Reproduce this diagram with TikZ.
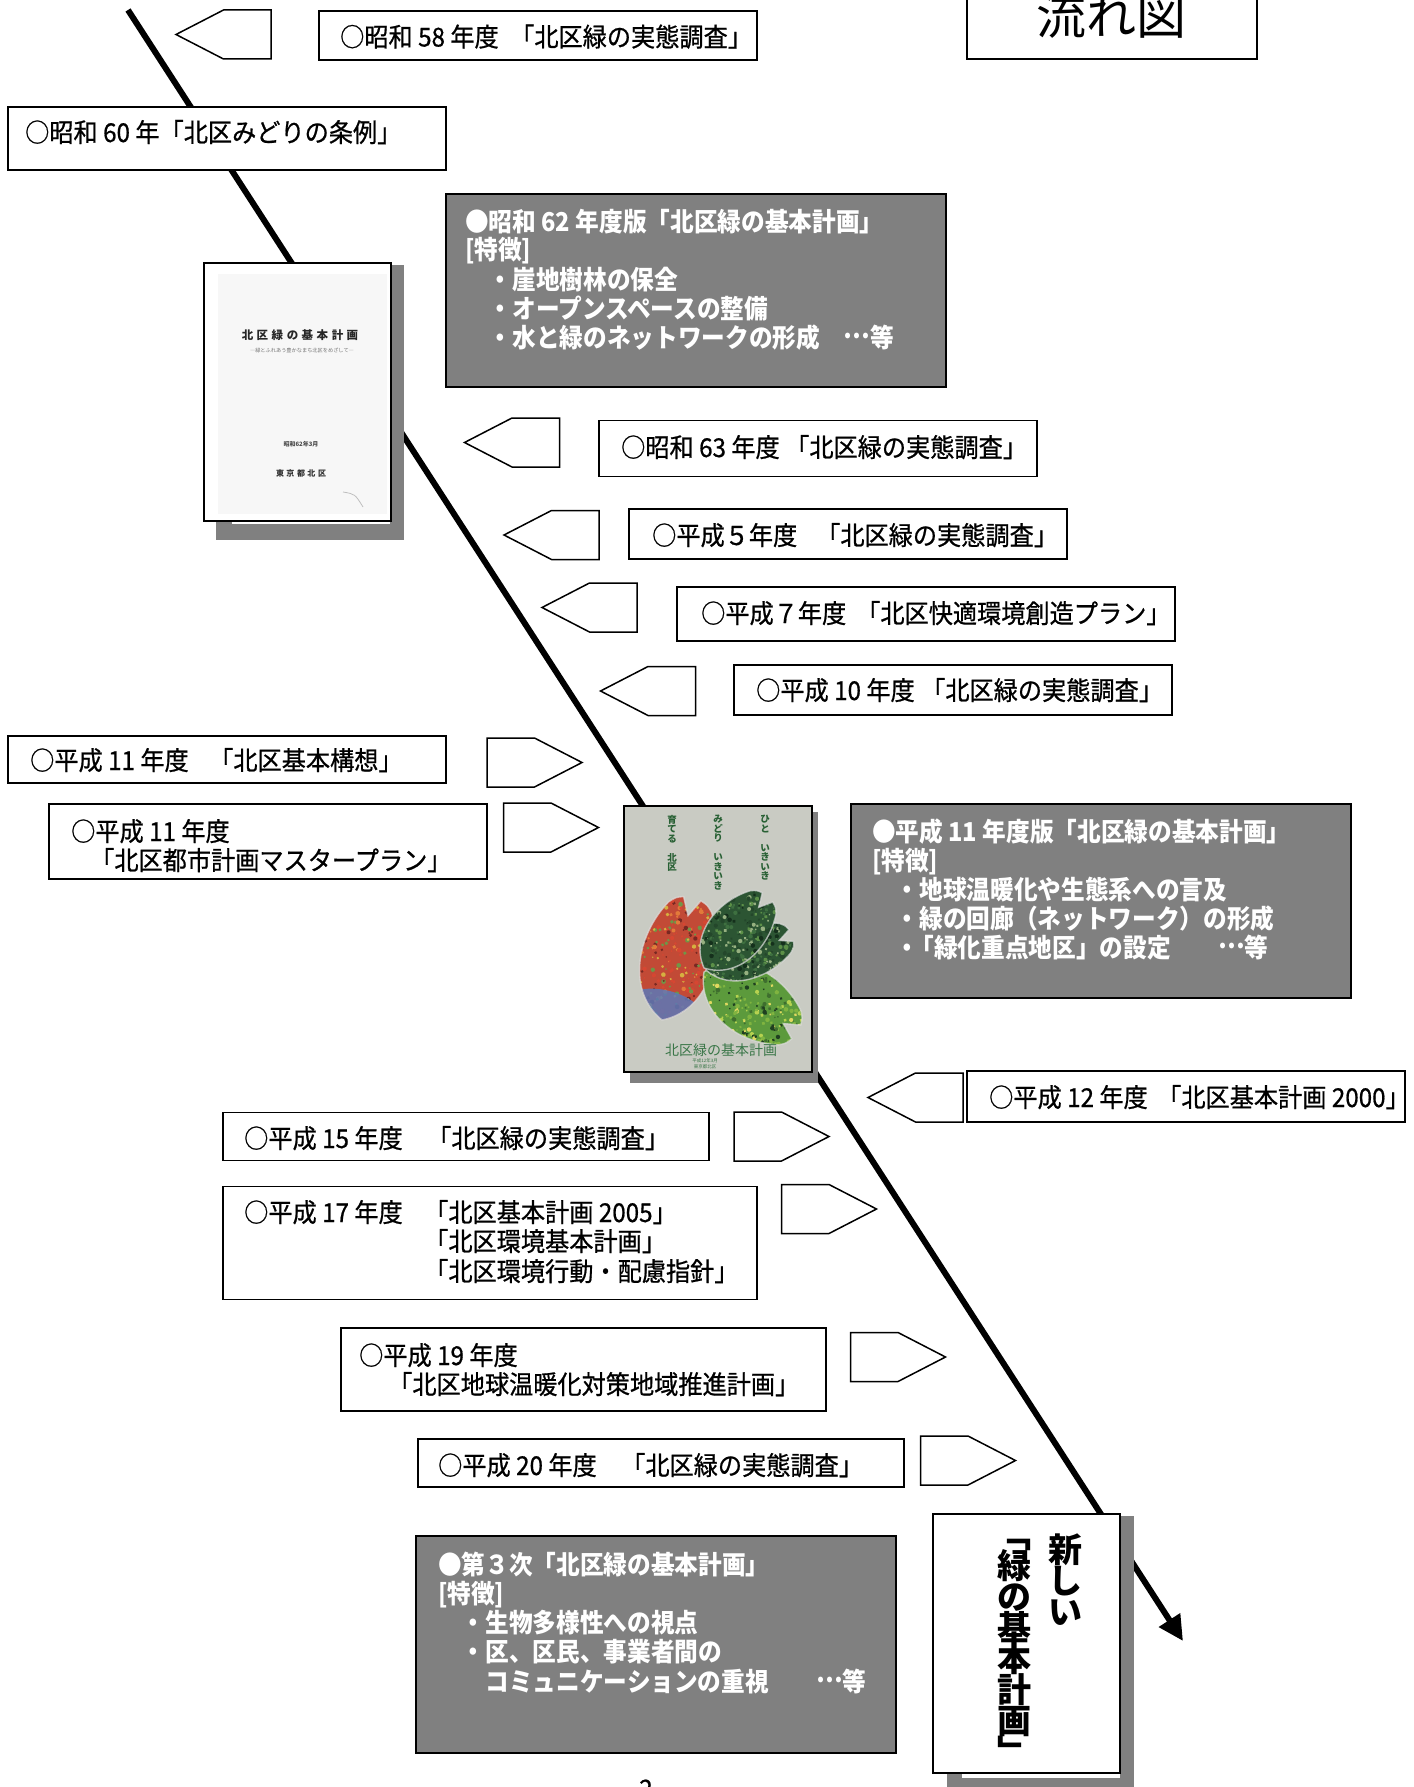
\documentclass[tikz,border=0pt]{standalone}
\usepackage{fontspec}
\usetikzlibrary{arrows.meta}
\newfontfamily\jp[FakeStretch=0.93,FakeBold=0.7]{Noto Sans CJK JP}
\newfontfamily\jpb[FakeStretch=0.91]{Noto Sans CJK JP}
\newfontfamily\jpn{Noto Sans CJK JP}
% centred ellipsis, as set in Japanese text
\newcommand\etcdots{\raisebox{0.33em}{…}}

\definecolor{boxgray}{RGB}{128,128,128}
\definecolor{covergray}{RGB}{201,203,195}
\definecolor{coverink}{RGB}{40,96,52}
\definecolor{coverinkb}{RGB}{58,118,72}
% petal colours
\definecolor{petbase}{RGB}{194,74,54}
\definecolor{petred}{RGB}{214,70,50}
\definecolor{petorange}{RGB}{226,122,58}
\definecolor{petdeep}{RGB}{120,40,34}
\definecolor{petyellow}{RGB}{214,176,64}
\definecolor{petleaf}{RGB}{112,150,70}
\definecolor{petblue}{RGB}{92,120,184}
\definecolor{dgbase}{RGB}{44,85,51}
\definecolor{dga}{RGB}{36,71,43}
\definecolor{dgb}{RGB}{62,112,64}
\definecolor{dgc}{RGB}{150,176,128}
\definecolor{dgd}{RGB}{21,48,28}
\definecolor{dge}{RGB}{92,144,72}
\definecolor{lgbase}{RGB}{92,154,60}
\definecolor{lga}{RGB}{128,180,64}
\definecolor{lgb}{RGB}{182,210,80}
\definecolor{lgc}{RGB}{62,110,46}
\definecolor{lgd}{RGB}{224,216,96}
\definecolor{lge}{RGB}{31,63,32}

\pgfmathdeclarerandomlist{redmix}{{petred}{petorange}{petdeep}{petyellow}{petleaf}{petred}}
\pgfmathdeclarerandomlist{darkmix}{{dga}{dgb}{dgc}{dgd}{dge}{dga}}
\pgfmathdeclarerandomlist{lightmix}{{lga}{lgb}{lgc}{lgd}{lge}{lga}}

% one notched cherry petal: base x, base y, angle, length, width, colour, speckle list, extra fill
\newcommand\drawpetal[8]{%
  \begin{scope}[shift={(#1,#2)},rotate=#3]
    \begin{scope}
      \clip (0,0) .. controls ({0.15*#4},{0.55*#5}) and ({0.6*#4},{0.62*#5}) .. ({0.93*#4},{0.3*#5})
        .. controls ({0.98*#4},{0.22*#5}) .. (#4,{0.12*#5}) -- ({0.86*#4},0) -- (#4,{-0.12*#5})
        .. controls ({0.98*#4},{-0.22*#5}) .. ({0.93*#4},{-0.3*#5})
        .. controls ({0.6*#4},{-0.62*#5}) and ({0.15*#4},{-0.55*#5}) .. (0,0) -- cycle;
      \fill[#6] (-5,{-#5}) rectangle ({#4+5},{#5});
      \foreach \k in {1,...,260}{%
        \pgfmathrandomitem{\pc}{#7}%
        \pgfmathsetmacro\px{rnd*#4}%
        \pgfmathsetmacro\py{(rnd-0.5)*#5}%
        \pgfmathsetmacro\pr{0.8+1.6*rnd}%
        \fill[\pc] (\px,\py) circle (\pr);}
      #8
    \end{scope}
    \draw[petalrim] (0,0) .. controls ({0.15*#4},{0.55*#5}) and ({0.6*#4},{0.62*#5}) .. ({0.93*#4},{0.3*#5})
        .. controls ({0.98*#4},{0.22*#5}) .. (#4,{0.12*#5}) -- ({0.86*#4},0) -- (#4,{-0.12*#5})
        .. controls ({0.98*#4},{-0.22*#5}) .. ({0.93*#4},{-0.3*#5})
        .. controls ({0.6*#4},{-0.62*#5}) and ({0.15*#4},{-0.55*#5}) .. (0,0) -- cycle;
  \end{scope}}

\begin{document}
\begin{tikzpicture}[x=1pt,y=-1pt,
  box/.style={draw=black,line width=1.6pt,fill=white,inner sep=0pt},
  dbox/.style={draw=black,line width=1.6pt,fill=boxgray,inner sep=0pt},
  penta/.style={draw=black,line width=1.5pt,fill=white,line join=miter},
  txt/.style={font=\jp\fontsize{26}{29}\selectfont,inner sep=0pt,anchor=base west},
  wtxt/.style={font=\jpb\bfseries\fontsize{26}{29}\selectfont,text=white,inner sep=0pt,anchor=base west},
  vtxt/.style={font=\jpn\bfseries\fontsize{34}{34}\selectfont,inner sep=0pt,anchor=center},
  covertxt/.style={font=\jpn\bfseries\fontsize{9.5}{9.5}\selectfont,text=coverink,align=center,inner sep=0pt,anchor=north},
  bookframe/.style={draw=black,line width=1.8pt,inner sep=0pt},
  petalrim/.style={draw=white!75!gray,line width=1.4pt,opacity=0.7},
  mainline/.style={line width=6pt,-{Triangle[length=25pt,width=24pt]}},
  lpent/.pic={\draw[penta] (-47.5,0) -- (0,-24.5) -- (47.5,-24.5) -- (47.5,24.5) -- (0,24.5) -- cycle;},
  rpent/.pic={\draw[penta] (47.5,0) -- (0,-24.5) -- (-47.5,-24.5) -- (-47.5,24.5) -- (0,24.5) -- cycle;},
]
\pgfmathsetseed{20240}
\fill[white] (0,0) rectangle (1413,1787);
\useasboundingbox (0,0) rectangle (1413,1787);

% the time axis
\coordinate (flowtop) at (128,10);
\coordinate (flowend) at (1183,1641);
\draw[mainline] (flowtop) -- (flowend);

% heading
\node[box,minimum width=290,minimum height=70] (title) at (1112,24) {};
\node[font=\jpn\fontsize{50}{50}\selectfont,inner sep=0pt] (titletext) at (1111,15) {流れ図};

% pointers toward the axis
\pic at (223.5,34.5) {lpent};
\pic at (512,442.5) {lpent};
\pic at (551.5,535) {lpent};
\pic at (589.5,607.5) {lpent};
\pic at (648,691) {lpent};
\pic at (915.5,1097.5) {lpent};
\pic at (534.5,762.5) {rpent};
\pic at (551,827.5) {rpent};
\pic at (781.5,1136.5) {rpent};
\pic at (829,1209) {rpent};
\pic at (898,1357) {rpent};
\pic at (968,1460.5) {rpent};

% S58
\node[box,minimum width=438,minimum height=49] (b58) at (538,35.5) {};
\node[txt] (t58) at (340,46.5) {\makebox[170pt][l]{○昭和 58 年度}「北区緑の実態調査」};
% S60
\node[box,minimum width=438,minimum height=63] (b60) at (227,138.5) {};
\node[txt] (t60) at (25,142) {○昭和 60 年「北区みどりの条例」};
% S62 plan
\node[dbox,minimum width=500,minimum height=193] (d62) at (696,290.5) {};
\node[wtxt] (d62a) at (465,232) {●昭和 62 年度版「北区緑の基本計画」};
\node[wtxt] (d62b) at (465,260) {[特徴]};
\node[wtxt] (d62c) at (465,289) {　・崖地樹林の保全};
\node[wtxt] (d62d) at (465,318) {　・オープンスペースの整備};
\node[wtxt] (d62e) at (465,347) {　・水と緑のネットワークの形成　\etcdots 等};
% S63
\node[box,minimum width=438,minimum height=56] (b63) at (818,448.5) {};
\node[txt] (t63) at (621,457) {\makebox[164pt][l]{○昭和 63 年度}「北区緑の実態調査」};
% H5
\node[box,minimum width=438,minimum height=50] (b05) at (848,534) {};
\node[txt] (t05) at (652,545) {\makebox[164pt][l]{○平成５年度}「北区緑の実態調査」};
% H7
\node[box,minimum width=498,minimum height=54] (b07) at (926,614) {};
\node[txt] (t07) at (701,623) {\makebox[155pt][l]{○平成７年度}「北区快適環境創造プラン」};
% H10
\node[box,minimum width=438,minimum height=50] (b10) at (953,690) {};
\node[txt] (t10) at (756,700) {\makebox[165pt][l]{○平成 10 年度}「北区緑の実態調査」};
% H11
\node[box,minimum width=438,minimum height=47] (bk11) at (227,759.5) {};
\node[txt] (tk11) at (30,770) {\makebox[179pt][l]{○平成 11 年度}「北区基本構想」};
\node[box,minimum width=438,minimum height=75] (bt11) at (268,841.5) {};
\node[txt] (tt11a) at (71,841) {○平成 11 年度};
\node[txt] (tt11b) at (90,870) {「北区都市計画マスタープラン」};
% H11 plan
\node[dbox,minimum width=500,minimum height=194] (dh11) at (1101,901) {};
\node[wtxt] (h11a) at (872,841) {●平成 11 年度版「北区緑の基本計画」};
\node[wtxt] (h11b) at (872,870) {[特徴]};
\node[wtxt] (h11c) at (872,899) {　・地球温暖化や生態系への言及};
\node[wtxt] (h11d) at (872,928) {　・緑の回廊（ネットワーク）の形成};
\node[wtxt] (h11e) at (872,957) {　・\hspace{-0.35em}「緑化重点地区」の設定　　\etcdots 等};
% H12
\node[box,minimum width=438,minimum height=51] (b12) at (1186,1096.5) {};
\node[txt] (t12) at (989,1107) {\makebox[168pt][l]{○平成 12 年度}「北区基本計画 2000」};
% H15
\node[box,minimum width=486,minimum height=48] (b15) at (466,1136.5) {};
\node[txt] (t15) at (244,1148) {\makebox[183pt][l]{○平成 15 年度}「北区緑の実態調査」};
% H17
\node[box,minimum width=534,minimum height=113] (b17) at (490,1243) {};
\node[txt] (t17a) at (244,1222) {○平成 17 年度};
\node[txt] (t17b) at (424,1222) {「北区基本計画 2005」};
\node[txt] (t17c) at (424,1251) {「北区環境基本計画」};
\node[txt] (t17d) at (424,1281) {「北区環境行動・配慮指針」};
% H19
\node[box,minimum width=485,minimum height=83] (b19) at (583.5,1369.5) {};
\node[txt] (t19a) at (359,1365) {○平成 19 年度};
\node[txt] (t19b) at (388,1394) {「北区地球温暖化対策地域推進計画」};
% H20
\node[box,minimum width=486,minimum height=48] (b20) at (661,1463) {};
\node[txt] (t20) at (438,1475) {\makebox[183pt][l]{○平成 20 年度}「北区緑の実態調査」};
% third plan
\node[dbox,minimum width=480,minimum height=217] (d3) at (656,1644.5) {};
\node[wtxt] (d3a) at (438,1574) {●第３次「北区緑の基本計画」};
\node[wtxt] (d3b) at (438,1603) {[特徴]};
\node[wtxt] (d3c) at (438,1632) {　・生物多様性への視点};
\node[wtxt] (d3d) at (438,1661) {　・区、区民、事業者間の};
\node[wtxt] (d3e) at (438,1691) {　　コミュニケーションの重視　　\etcdots 等};

% cover of the 1987 plan
\fill[boxgray] (216,265) rectangle (404,540);
\fill[white] (232,520) rectangle (390,524);
\node[bookframe,fill=white,minimum width=187,minimum height=258] (book1) at (297.5,392) {};
\fill[black!3] (218,274) rectangle (387,514);
\node[font=\jpn\bfseries\fontsize{11.5}{12}\selectfont,text=black!85,inner sep=0pt] (b1title) at (300,335)
  {北\hspace{3.5pt}区\hspace{3.5pt}緑\hspace{3.5pt}の\hspace{3.5pt}基\hspace{3.5pt}本\hspace{3.5pt}計\hspace{3.5pt}画};
\node[font=\jpn\fontsize{5.2}{6}\selectfont,text=black!55,inner sep=0pt] (b1sub) at (302,350) {―緑とふれあう豊かなまち北区をめざして―};
\node[font=\jpn\bfseries\fontsize{6}{6}\selectfont,text=black!70,inner sep=0pt] (b1date) at (301,444) {昭和62年3月};
\node[font=\jpn\bfseries\fontsize{8}{8}\selectfont,text=black!80,inner sep=0pt] (b1pub) at (301,473)
  {東\hspace{2.5pt}京\hspace{2.5pt}都\hspace{2.5pt}北\hspace{2.5pt}区};
\draw[black!25,line width=0.8pt] (343,492) .. controls (355,494) .. (363,507);

% cover of the 1999 plan
\fill[boxgray] (630,812) rectangle (818,1083);
\node[bookframe,fill=covergray,minimum width=188,minimum height=266] (book2) at (718,939) {};
\node[covertxt] (c2a) at (765,815) {ひ\\と\\\phantom{い}\\い\\き\\い\\き};
\node[covertxt] (c2b) at (718,815) {み\\ど\\り\\\phantom{い}\\い\\き\\い\\き};
\node[covertxt] (c2c) at (672,815) {育\\て\\る\\\phantom{い}\\北\\区};
\drawpetal{662}{1020}{76}{125}{74}{petbase}{redmix}{\fill[petblue,opacity=0.85] (10,0) ellipse (20 and 40);}
\drawpetal{704}{972}{-33}{110}{68}{lgbase}{lightmix}{}
\drawpetal{706}{970}{22}{92}{52}{dgbase}{darkmix}{}
\drawpetal{704}{968}{48}{95}{58}{dgbase}{darkmix}{}
\node[font=\jpn\fontsize{14}{14}\selectfont,text=coverinkb,inner sep=0pt] (b2title) at (721,1050) {北区緑の基本計画};
\node[font=\jpn\fontsize{4.5}{5}\selectfont,text=coverinkb,inner sep=0pt] (b2date) at (705,1061) {平成12年3月};
\node[font=\jpn\fontsize{4.5}{5}\selectfont,text=coverinkb,inner sep=0pt] (b2pub) at (705,1067) {東京都北区};

% the new plan
\fill[boxgray] (947,1516) rectangle (1134,1800);
\fill[white] (962,1774) rectangle (1120,1778);
\node[box,minimum width=187,minimum height=259] (newplan) at (1026.5,1643.5) {};
\foreach \c [count=\i] in {新,し,い}
  \node[vtxt] (nva\i) at (1065,{1519+31*\i}) {\vphantom{緑}\c};
\foreach \c [count=\i] in {﹁,緑,の,基,本,計,画,﹂}
  \node[vtxt] (nvb\i) at (1014,{1504+31*\i}) {\vphantom{緑}\c};

% page number
\node[font=\jp\fontsize{26}{26}\selectfont,inner sep=0pt] (pageno) at (646,1789) {2};
\end{tikzpicture}
\end{document}
